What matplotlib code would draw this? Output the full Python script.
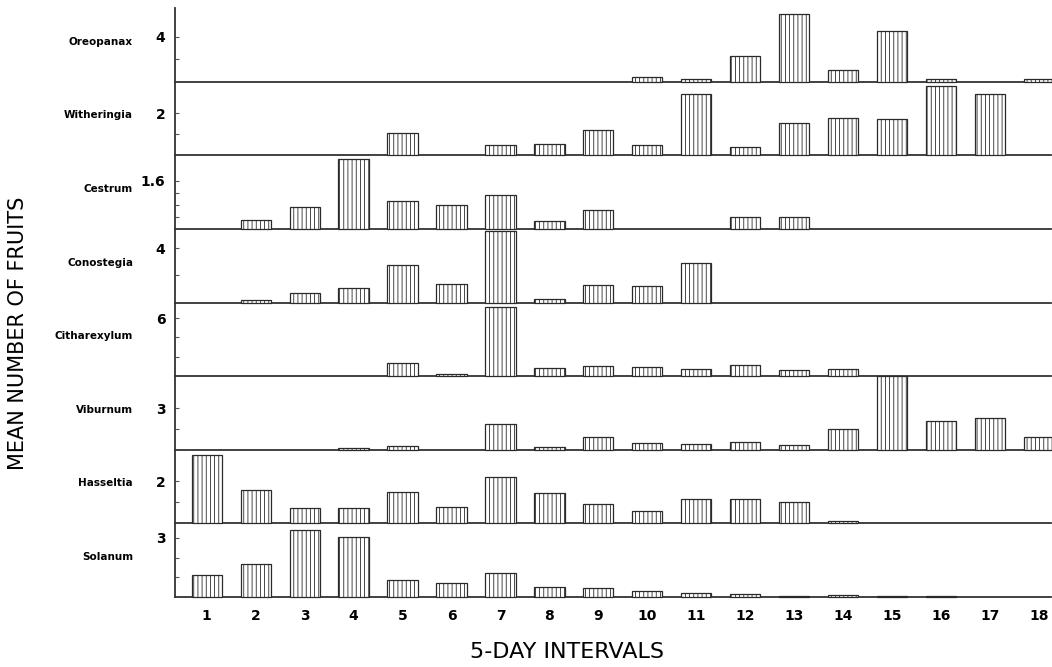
import numpy as np
import matplotlib
matplotlib.use("Agg")
import matplotlib.pyplot as plt

# ---- data ----
intervals = list(range(1, 19))
species = ["Oreopanax", "Witheringia", "Cestrum", "Conostegia",
           "Citharexylum", "Viburnum", "Hasseltia", "Solanum"]
tick_top = [4, 2, 1.6, 4, 6, 3, 2, 3]
tick_labels = ["4", "2", "1.6", "4", "6", "3", "2", "3"]

oreopanax =    [0, 0, 0, 0, 0, 0, 0, 0, 0, 0.45, 0.25, 2.3, 6.0, 1.0, 4.5, 0.25, 0, 0.25]
witheringia =  [0, 0, 0, 0, 1.05, 0, 0.5, 0.55, 1.2, 0.5, 2.9, 0.37, 1.54, 1.76, 1.71, 3.3, 2.9, 0]
cestrum =      [0, 0.3, 0.73, 2.32, 0.94, 0.81, 1.14, 0.26, 0.62, 0, 0, 0.39, 0.4, 0, 0, 0, 0, 0]
conostegia =   [0, 0.22, 0.67, 1.04, 2.8, 1.36, 5.3, 0.25, 1.3, 1.23, 2.9, 0, 0, 0, 0, 0, 0, 0]
citharexylum = [0, 0, 0, 0, 1.34, 0.2, 7.1, 0.86, 1.07, 0.9, 0.72, 1.14, 0.65, 0.69, 0, 0, 0, 0]
viburnum =     [0, 0, 0, 0.15, 0.24, 0, 1.83, 0.17, 0.95, 0.5, 0.43, 0.55, 0.33, 1.52, 5.3, 2.05, 2.3, 0.9]
hasseltia =    [3.25, 1.57, 0.73, 0.73, 1.5, 0.76, 2.22, 1.44, 0.92, 0.6, 1.16, 1.16, 1.02, 0.1, 0, 0, 0, 0]
solanum =      [1.1, 1.66, 3.42, 3.07, 0.88, 0.73, 1.22, 0.52, 0.47, 0.29, 0.18, 0.15, 0.07, 0.1, 0.03, 0.03, 0, 0]

series = [oreopanax, witheringia, cestrum, conostegia,
          citharexylum, viburnum, hasseltia, solanum]

# ---- layout (scale per panel and minor ticks) ----
ylims = [6.54, 3.5, 2.45, 5.45, 7.6, 5.3, 3.5, 3.74]
minor = [[2], [1], [0.4, 0.8, 1.2], [2], [2, 4], [1.5], [1], [1, 2]]

W, H = 1052, 667
fig = plt.figure(figsize=(W / 100, H / 100), dpi=100)
plt.rcParams['hatch.linewidth'] = 0.6
plt.rcParams['hatch.color'] = '#333333'

left_px, right_px = 175, 1051
top_px, bottom_px = 8, 597
n = len(species)
ph = (bottom_px - top_px) / n
aw = right_px - left_px

for i in range(n):
    y_top = top_px + i * ph
    ax = fig.add_axes([left_px / W, 1 - (y_top + ph) / H,
                       aw / W, ph / H])
    vals = series[i]
    xs = [x for x, v in zip(intervals, vals) if v > 0]
    vs = [v for v in vals if v > 0]
    ax.bar(xs, vs, width=0.62, facecolor='white', edgecolor='#2a2a2a',
           linewidth=0.9, hatch='||||', clip_on=False, zorder=3)
    ax.set_xlim(0.35, 18.25)
    ax.set_ylim(0, ylims[i])
    for s in ['top', 'right']:
        ax.spines[s].set_visible(False)
    for s in ['left', 'bottom']:
        ax.spines[s].set_color('#333333')
        ax.spines[s].set_linewidth(1.3)
    ax.set_yticks([tick_top[i]])
    ax.set_yticklabels([tick_labels[i]], fontsize=10, fontweight='bold')
    ax.set_yticks(minor[i], minor=True)
    ax.tick_params(axis='y', which='both', direction='in', length=3,
                   width=0.8, color='#555555', pad=7)
    ax.set_facecolor('none')
    if i < n - 1:
        ax.set_xticks([])
    else:
        ax.set_xticks(intervals)
        ax.set_xticklabels([str(v) for v in intervals], fontsize=10,
                           fontweight='bold')
        ax.tick_params(axis='x', length=0, pad=9)
    ax.text((133 - left_px) / aw, 40 / ph, species[i], transform=ax.transAxes,
            ha='right', va='center', fontsize=7.5, fontweight='bold')

fig.text(567 / W, 1 - 652 / H, "5-DAY INTERVALS", ha='center', va='center',
         fontsize=16, family=['Liberation Sans Narrow', 'DejaVu Sans'])
fig.text(18 / W, 1 - 333 / H, "MEAN NUMBER OF FRUITS", ha='center',
         va='center', rotation=90, fontsize=15,
         family=['Liberation Sans Narrow', 'DejaVu Sans'])

fig.savefig("out.png", dpi=100, facecolor='white')
